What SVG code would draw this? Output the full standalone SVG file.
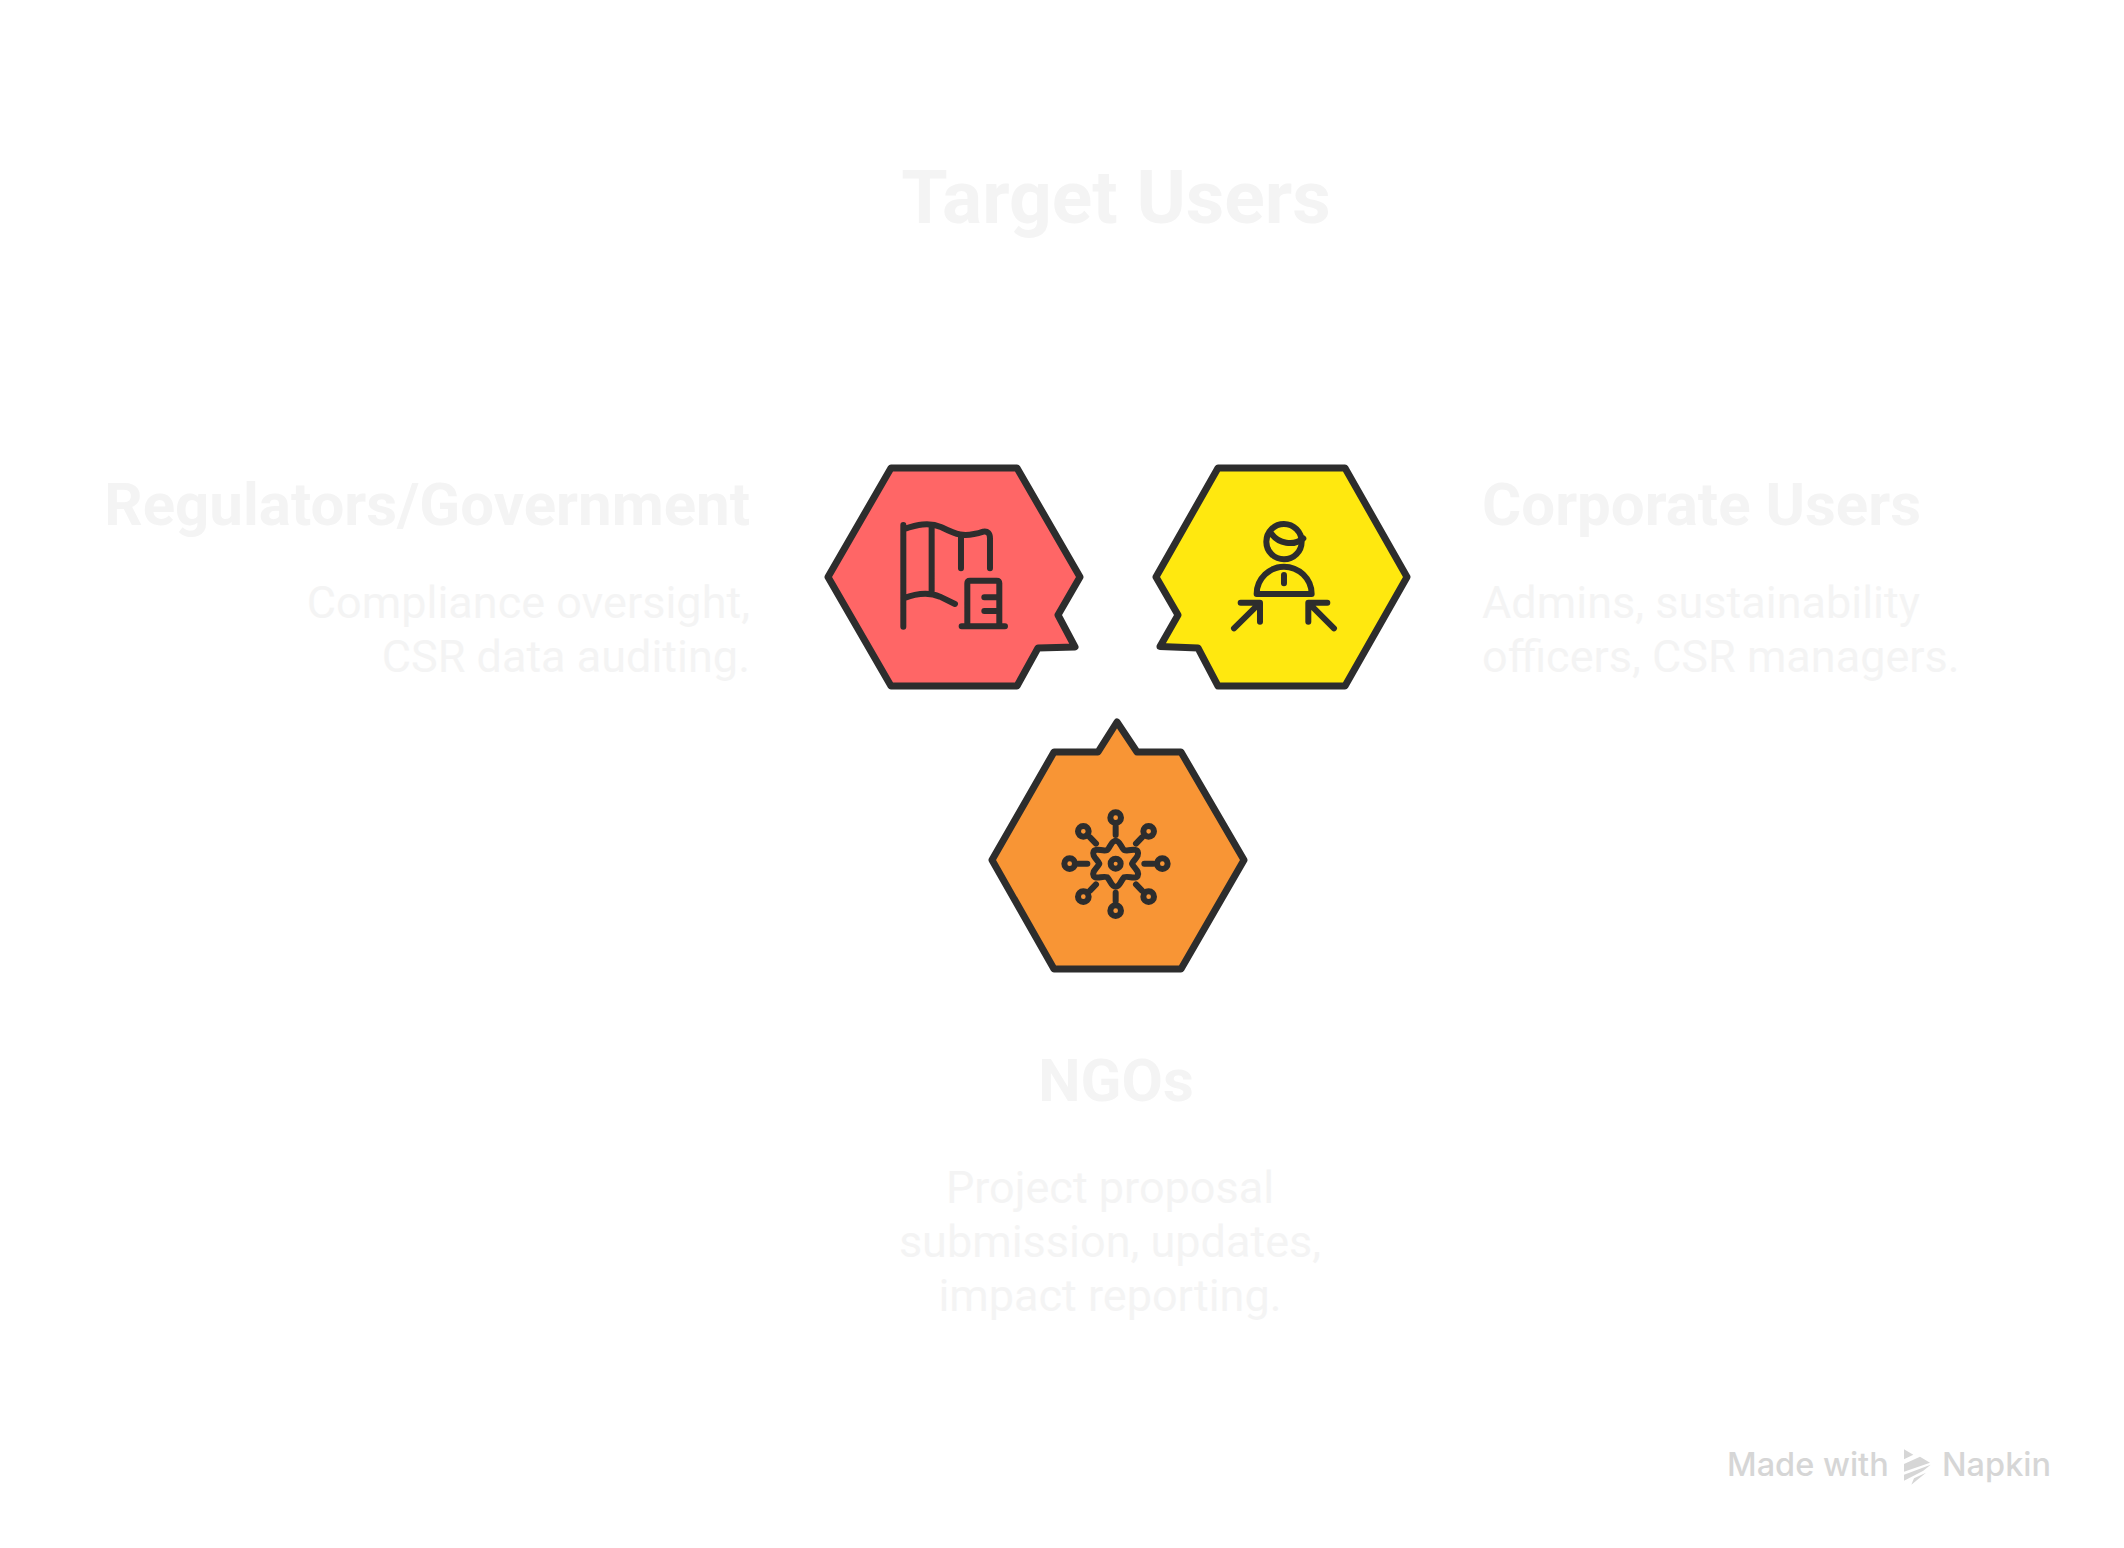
<svg xmlns="http://www.w3.org/2000/svg" width="2124" height="1548" viewBox="0 0 2124 1548">
<style>
text{font-family:Roboto,"Liberation Sans",sans-serif;fill:#f4f4f4}
.t{font-size:75px;font-weight:700}
.h{font-size:60px;font-weight:700}
.b{font-size:45px;font-weight:400}
.hex{stroke:#2d2d2d;stroke-width:7;stroke-linejoin:round}
.ic{fill:none;stroke:#2d2d2d;stroke-width:18;stroke-linecap:round;stroke-linejoin:round}
.wm{font-family:Inter,"Noto Sans",sans-serif;font-size:32.5px;fill:#d6d6d6;font-weight:500}
</style>
<rect width="2124" height="1548" fill="#fff"/>
<text id="title" class="t" x="1116" y="223" text-anchor="middle">Target Users</text>
<g id="regulators">
<path class="hex" fill="#ff6666" d="M891 468H1017L1080 577L1058 615L1075 647L1038 648L1017 686H891L828 577Z"/>
<g class="ic" transform="translate(800 440) scale(.3333)">
<path d="M310 255V560M310 268C350 255 385 245 425 262C465 282 490 295 550 275Q570 272 570 295V385M395 258V455M483 290V385M310 475C350 460 385 455 420 470L465 492M502 555V430Q502 422 510 422H590Q598 422 598 430V555M485 559H615M553 472H598M553 513H598"/>
</g>
<text class="h" x="750" y="525" text-anchor="end">Regulators/Government</text>
<text class="b" x="750" y="618" text-anchor="end">Compliance oversight,</text>
<text class="b" x="750" y="672" text-anchor="end">CSR data auditing.</text>
</g>
<g id="corporate">
<path class="hex" fill="#ffe80f" d="M1218 468H1345L1407 577L1345 686H1218L1198 648L1160 646.500L1178 615L1156 577Z"/>
<g class="ic" transform="translate(1130 440) scale(.3333)">
<circle cx="462" cy="305" r="53"/>
<path d="M425 282C445 310 490 320 520 295M380 462C380 415 420 380 462 380C505 380 545 415 545 462ZM462 405V430M312 565L388 490M332 488H390V545M612 565L537 490M592 488H535V545"/>
</g>
<text class="h" x="1482" y="525">Corporate Users</text>
<text class="b" x="1482" y="618">Admins, sustainability</text>
<text class="b" x="1482" y="672">officers, CSR managers.</text>
</g>
<g id="ngos">
<path class="hex" fill="#f89535" d="M1054 752H1098L1117 722L1137 752H1181L1244 860L1181 969H1054L992 860Z"/>
<g class="ic" transform="translate(1050 800) scale(.3333)">
<path d="M172 150C182 140 184 122 197 122C210 122 212 140 222 150C236 156 255 142 263 154C270 168 252 178 246 191C252 204 270 214 263 228C255 240 236 226 222 232C212 242 210 260 197 260C184 260 182 242 172 232C158 226 139 240 131 228C124 214 142 204 148 191C142 178 124 168 131 154C139 142 158 156 172 150Z"/>
<circle cx="197" cy="191" r="15"/>
<circle cx="197" cy="53" r="16"/><circle cx="197" cy="332" r="16"/><circle cx="59" cy="191" r="16"/><circle cx="337" cy="191" r="16"/><circle cx="100" cy="94" r="16"/><circle cx="296" cy="94" r="16"/><circle cx="100" cy="290" r="16"/><circle cx="296" cy="290" r="16"/>
<path d="M197 80V105M197 278V303M85 191H112M283 191H310M120 112L138 131M276 112L258 131M120 272L138 253M276 272L258 253"/>
</g>
<text class="h" x="1116" y="1101" text-anchor="middle">NGOs</text>
<text class="b" x="1110" y="1203" text-anchor="middle">Project proposal</text>
<text class="b" x="1110" y="1257" text-anchor="middle">submission, updates,</text>
<text class="b" x="1110" y="1311" text-anchor="middle">impact reporting.</text>
</g>
<g id="watermark">
<text class="wm" x="1727" y="1476">Made with</text>
<g fill="#d6d6d6" transform="translate(1890 1440) scale(.3333)">
<path d="M42 28L70 44L42 58ZM42 72L90 50L120 68L42 95ZM42 104L122 74L100 92L42 122ZM64 134L108 98L72 115Z"/>
</g>
<text class="wm" x="1942" y="1476">Napkin</text>
</g>
</svg>
